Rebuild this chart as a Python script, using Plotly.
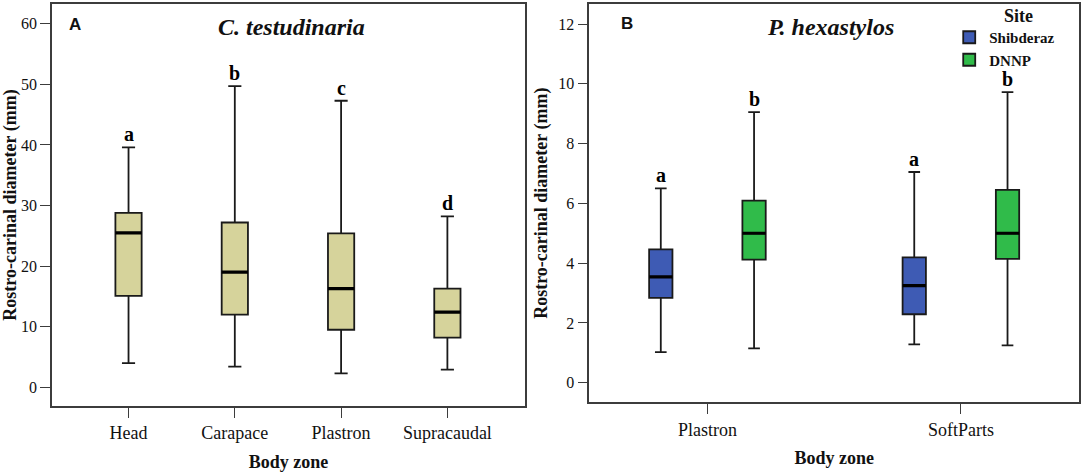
import numpy as np
import plotly.graph_objects as go

# ---------------- Data ----------------
# Panel A: C. testudinaria
zones_a = ["Head", "Carapace", "Plastron", "Supracaudal"]
a_min = [4.0, 3.4, 2.3, 2.9]
a_q1 = [15.1, 12.0, 9.5, 8.2]
a_med = [25.5, 19.0, 16.3, 12.4]
a_q3 = [28.8, 27.2, 25.4, 16.3]
a_max = [39.6, 49.7, 47.3, 28.2]
a_letters = ["a", "b", "c", "d"]

# Panel B: P. hexastylos
zones_b = ["Plastron", "SoftParts"]
shib_min = [1.02, 1.28]
shib_q1 = [2.84, 2.29]
shib_med = [3.54, 3.25]
shib_q3 = [4.46, 4.19]
shib_max = [6.50, 7.05]
shib_letters = ["a", "a"]

dnnp_min = [1.15, 1.25]
dnnp_q1 = [4.12, 4.14]
dnnp_med = [5.00, 5.00]
dnnp_q3 = [6.09, 6.45]
dnnp_max = [9.05, 9.72]
dnnp_letters = ["b", "b"]

legend_title = "Site"
y_ticks_a = [0, 10, 20, 30, 40, 50, 60]
y_ticks_b = [0, 2, 4, 6, 8, 10, 12]

# ---------------- Style ----------------
SERIF = "Liberation Serif"
SANS = "Liberation Sans"
BEIGE = "#d6d39b"
BLUE = "#3e5bb4"
GREEN = "#30bb4a"
BOXLINE = "#1a1a1a"
FRAME = "#3c3c3c"
W_A = 0.247
W_B = 0.092
GROUP_OFFSET = 0.184

W, H = 1084, 473
ML, MR, MT, MB = 52.3, 5.3, 4, 67
PW = W - ML - MR
PH = H - MT - MB

fig = go.Figure()
annotations = []


def add_boxes(pos, q1, med, q3, lo, hi, fill, width, xa, ya, name=None, legend=False):
    fig.add_trace(go.Box(
        x=pos, q1=q1, median=med, q3=q3, lowerfence=lo, upperfence=hi,
        fillcolor=fill, line=dict(color=BOXLINE, width=1.8), width=width,
        whiskerwidth=0.5, boxpoints=False, xaxis=xa, yaxis=ya,
        name=name, showlegend=legend, hoverinfo="skip"))
    # thicker median line overlay
    fig.add_trace(go.Box(
        x=pos, q1=med, median=med, q3=med, lowerfence=med, upperfence=med,
        fillcolor="rgba(0,0,0,0)", line=dict(color="black", width=3.2), width=width,
        whiskerwidth=0, boxpoints=False, xaxis=xa, yaxis=ya,
        showlegend=False, hoverinfo="skip"))


def add_letters(pos, ymax, letters, xa, ya):
    for p, v, t in zip(pos, ymax, letters):
        annotations.append(dict(
            x=float(p), y=v, xref=xa, yref=ya, text=t, showarrow=False,
            xanchor="center", yanchor="bottom", yshift=1, borderpad=0,
            font=dict(family=SERIF, size=20, color="black", weight="bold")))


pos_a = np.arange(len(zones_a))
add_boxes(pos_a, a_q1, a_med, a_q3, a_min, a_max, BEIGE, W_A, "x", "y")
add_letters(pos_a, a_max, a_letters, "x", "y")

pos_b = np.arange(len(zones_b))
pos_shib = pos_b - GROUP_OFFSET
pos_dnnp = pos_b + GROUP_OFFSET
add_boxes(pos_shib, shib_q1, shib_med, shib_q3, shib_min, shib_max, BLUE, W_B, "x2", "y2",
          name="Shibderaz", legend=True)
add_boxes(pos_dnnp, dnnp_q1, dnnp_med, dnnp_q3, dnnp_min, dnnp_max, GREEN, W_B, "x2", "y2",
          name="DNNP", legend=True)
add_letters(pos_shib, shib_max, shib_letters, "x2", "y2")
add_letters(pos_dnnp, dnnp_max, dnnp_letters, "x2", "y2")

axis_common = dict(
    showline=True, mirror=True, linecolor=FRAME, linewidth=1.6,
    ticks="outside", ticklen=10, tickwidth=1.4, tickcolor=FRAME,
    showgrid=False, zeroline=False, automargin=False,
)
xtick_font = dict(family=SERIF, size=18, color="#111")
ytick_font = dict(family=SERIF, size=16, color="#111")
title_font = dict(family=SERIF, size=18, color="#111", weight="bold")

annotations += [
    dict(text="A", xref="x domain", yref="y domain", x=0.048, y=0.95,
         xanchor="center", yanchor="middle",
         showarrow=False, font=dict(family=SANS, size=17, color="#111", weight="bold")),
    dict(text="<i>C. testudinaria</i>", xref="x domain", yref="y domain", x=0.507, y=0.943,
         xanchor="center", yanchor="middle",
         showarrow=False, font=dict(family=SERIF, size=24, color="#111", weight="bold")),
    dict(text="B", xref="x2 domain", yref="y2 domain", x=0.077, y=0.95,
         xanchor="center", yanchor="middle",
         showarrow=False, font=dict(family=SANS, size=17, color="#111", weight="bold")),
    dict(text="<i>P. hexastylos</i>", xref="x2 domain", yref="y2 domain", x=0.492, y=0.942,
         xanchor="center", yanchor="middle",
         showarrow=False, font=dict(family=SERIF, size=24, color="#111", weight="bold")),
    # legend heading
    dict(text=legend_title, xref="paper", yref="paper",
         x=(1018 - ML) / PW, y=1 - (16 - MT) / PH, xanchor="center", yanchor="middle",
         showarrow=False, font=dict(family=SERIF, size=18, color="#111", weight="bold")),
]

fig.update_layout(
    template="none",
    width=W, height=H,
    margin=dict(l=ML, r=MR, t=MT, b=MB, pad=0),
    paper_bgcolor="white", plot_bgcolor="white",
    font=dict(family=SERIF, color="#111"),
    boxmode="overlay",
    xaxis=dict(domain=[0, (525 - ML) / PW], range=[-0.72, 3.73],
               tickvals=pos_a, ticktext=zones_a, anchor="y", tickfont=xtick_font,
               title=dict(text="Body zone", font=title_font, standoff=13),
               **axis_common),
    yaxis=dict(domain=[0, 1], range=[-3.09, 63.27], tickvals=y_ticks_a, anchor="x",
               tickfont=ytick_font,
               title=dict(text="Rostro-carinal diameter (mm)", font=title_font, standoff=6),
               **axis_common),
    xaxis2=dict(domain=[(589.3 - ML) / PW, 1], range=[-0.466, 1.466],
                tickvals=pos_b, ticktext=zones_b, anchor="y2", tickfont=xtick_font,
                title=dict(text="Body zone", font=title_font, standoff=13),
                **axis_common),
    yaxis2=dict(domain=[(406 - 402.3) / PH, 1], range=[-0.656, 12.67], tickvals=y_ticks_b,
                anchor="x2", tickfont=ytick_font,
                title=dict(text="Rostro-carinal diameter (mm)", font=title_font, standoff=6),
                **axis_common),
    legend=dict(
        font=dict(family=SERIF, size=15, color="#111", weight="bold"),
        x=(949 - ML) / PW, xanchor="left", y=1 - (21 - MT) / PH, yanchor="top",
        bgcolor="rgba(0,0,0,0)", tracegroupgap=0,
    ),
    annotations=annotations,
)

fig.write_html("out.html", config={"displayModeBar": False},
               post_script="document.body.style.margin='0px';")
